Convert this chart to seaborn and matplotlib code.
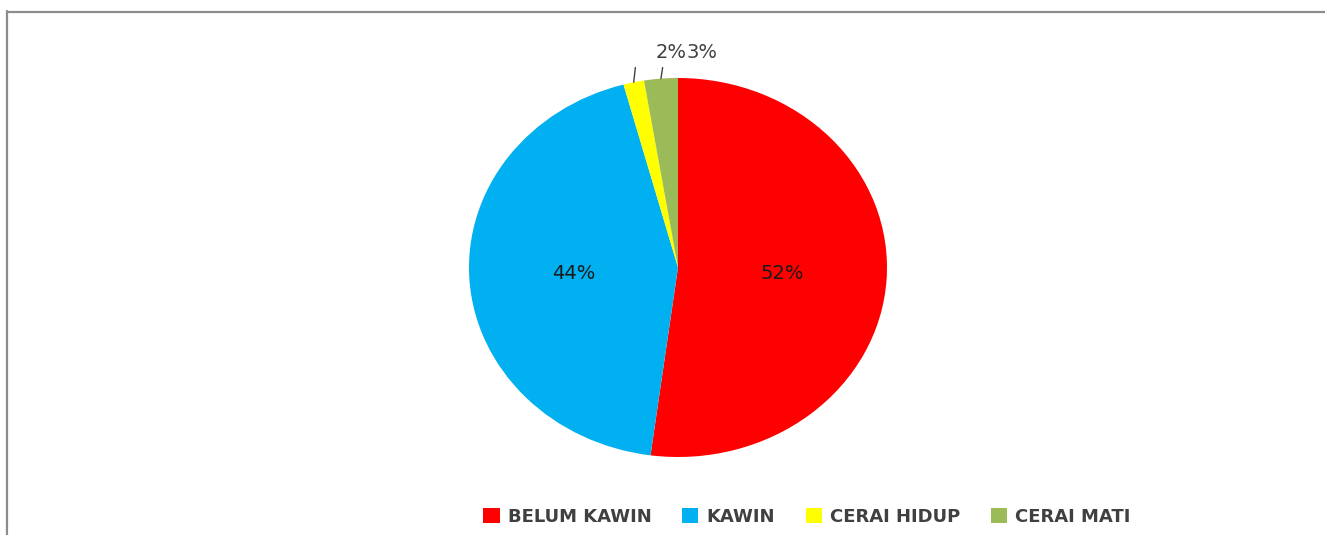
import matplotlib
matplotlib.use("Agg")
import matplotlib.pyplot as plt
from matplotlib.lines import Line2D
from matplotlib.patches import Patch
import numpy as np
import seaborn as sns

# Marital status shares
categories = ["BELUM KAWIN", "KAWIN", "CERAI HIDUP", "CERAI MATI"]
shares = [52.1, 43.7, 1.6, 2.6]
colors = ["#FF0000", "#00B0F0", "#FFFF00", "#9BBB59"]

sns.set_theme(style="white")
plt.rcParams["font.family"] = ["DejaVu Sans"]

W, H = 1325, 535
fig = plt.figure(figsize=(W / 100, H / 100), dpi=100)
fig.patch.set_facecolor("white")

# Axes sized so the pie is drawn slightly wider than tall
left, right, top, bottom = 469, 887, 78, 457
ax = fig.add_axes([left / W, 1 - bottom / H, (right - left) / W, (bottom - top) / H])

small_cut = 5.0
label_size = 14


def pct_label(p):
    return f"{p:.0f}%" if p >= small_cut else ""


wedges, texts, autotexts = ax.pie(
    shares,
    colors=colors,
    startangle=90,
    counterclock=False,
    autopct=pct_label,
    pctdistance=0.5,
    wedgeprops=dict(linewidth=0),
    textprops=dict(fontsize=label_size, color="#1a1a1a"),
)
ax.set_aspect("auto")
ax.set_xlim(-1, 1)
ax.set_ylim(-1, 1)
ax.axis("off")

# Outside labels with leader lines for the thin slices; labels are
# chained left to right so they sit side by side above the pie
total = sum(shares)
prev = None
for w, val in zip(wedges, shares):
    pct = val / total * 100
    if pct >= small_cut:
        continue
    mid = np.deg2rad((w.theta1 + w.theta2) / 2)
    x0, y0 = np.cos(mid), np.sin(mid)
    x1, y1 = x0 + 0.008, 1.055
    ax.plot([x0, x1], [y0, y1], color="#404040", lw=1, clip_on=False)
    if prev is None:
        prev = ax.text(x1 + 0.17, 1.137, f"{pct:.0f}%", ha="center", va="center",
                       fontsize=label_size, color="#404040", clip_on=False)
    else:
        prev = ax.annotate(f"{pct:.0f}%", xy=(1, 0.5), xycoords=prev,
                           ha="left", va="center", fontsize=label_size,
                           color="#404040", annotation_clip=False)

# Legend along the bottom
handles = [Patch(facecolor=c, edgecolor="none") for c in colors]
fig.legend(
    handles, categories,
    loc="center", bbox_to_anchor=(807 / W, 1 - 517 / H),
    ncol=4, frameon=False,
    prop=dict(size=13, weight="bold"),
    handlelength=0.9, handleheight=0.9, handletextpad=0.45,
    columnspacing=1.7,
    labelcolor="#404040",
)

# Chart-area frame on the top and left edges
fig.add_artist(Line2D([7 / W, 1], [1 - 11.5 / H, 1 - 11.5 / H],
                      transform=fig.transFigure, color="#8c8c8c", lw=1.6))
fig.add_artist(Line2D([7.5 / W, 7.5 / W], [0, 1 - 11 / H],
                      transform=fig.transFigure, color="#8c8c8c", lw=1.6))

fig.savefig("out.png", dpi=100, facecolor="white")
